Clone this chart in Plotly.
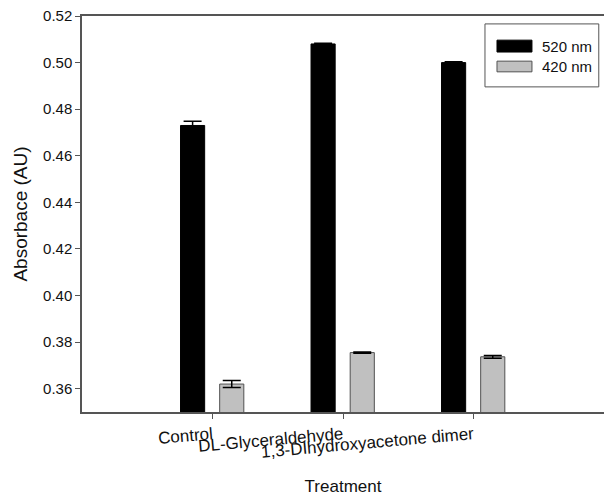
import plotly.graph_objects as go

categories = ["Control", "DL-Glyceraldehyde", "1,3-DIhydroxyacetone dimer"]
abs_520 = [0.473, 0.508, 0.500]
err_520 = [0.0018, 0.0003, 0.0004]
abs_420 = [0.362, 0.3755, 0.3737]
err_420 = [0.0015, 0.0003, 0.0006]
series_names = ["520 nm", "420 nm"]
y_ticks = [0.36, 0.38, 0.40, 0.42, 0.44, 0.46, 0.48, 0.50, 0.52]

FONT = "Liberation Sans, Arial, sans-serif"
colors = ["black", "#c0c0c0"]
edges = ["black", "#505050"]

fig = go.Figure()
fig.add_trace(go.Bar(
    x=categories, y=abs_520, name=series_names[0],
    marker=dict(color=colors[0], line=dict(color=edges[0], width=1)),
    width=0.185, offset=-0.245,
    error_y=dict(type="data", array=err_520, color="black", thickness=1.5, width=9),
))
fig.add_trace(go.Bar(
    x=categories, y=abs_420, name=series_names[1],
    marker=dict(color=colors[1], line=dict(color=edges[1], width=1)),
    width=0.185, offset=0.055,
    error_y=dict(type="data", array=err_420, color="black", thickness=1.5, width=9),
))

# custom legend (box, swatches, labels) in paper coordinates
shapes = [dict(type="rect", xref="paper", yref="paper", x0=0.772, x1=0.990, y0=0.821, y1=0.980,
               line=dict(color="#555555", width=1), fillcolor="white", layer="above")]
annots = []
sw_y = [(0.909, 0.939), (0.859, 0.886)]
txt_y = [0.924, 0.873]
for i, name in enumerate(series_names):
    shapes.append(dict(type="rect", xref="paper", yref="paper", x0=0.795, x1=0.862,
                       y0=sw_y[i][0], y1=sw_y[i][1], fillcolor=colors[i],
                       line=dict(color=edges[i], width=1), layer="above"))
    annots.append(dict(xref="paper", yref="paper", x=0.877, y=txt_y[i], text=name,
                       showarrow=False, xanchor="left", yanchor="middle",
                       font=dict(size=15, family=FONT, color="#111111")))

fig.update_layout(
    width=604, height=496,
    margin=dict(l=82, r=0, t=16, b=84),
    plot_bgcolor="white", paper_bgcolor="white",
    font=dict(family=FONT, color="#111111", size=15),
    barmode="overlay",
    showlegend=False,
    shapes=shapes, annotations=annots,
    xaxis=dict(
        type="category", range=[-1, 3],
        showline=True, linecolor="#555555", linewidth=1.5, mirror=True,
        ticks="outside", ticklen=5, tickcolor="#555555",
        tickangle=-5, tickfont=dict(size=17),
        showgrid=False, zeroline=False,
        title=dict(text="Treatment", font=dict(size=17), standoff=21),
    ),
    yaxis=dict(
        range=[0.35, 0.52], tickvals=y_ticks, tickformat=".2f",
        showline=True, linecolor="#555555", linewidth=1.5,
        ticks="outside", ticklen=5, tickcolor="#555555",
        tickfont=dict(size=15),
        showgrid=False, zeroline=False,
        title=dict(text="Absorbace (AU)", font=dict(size=19), standoff=10),
    ),
)

fig.write_html("out.html", config={"displayModeBar": False},
               post_script="document.body.style.margin='0';")
